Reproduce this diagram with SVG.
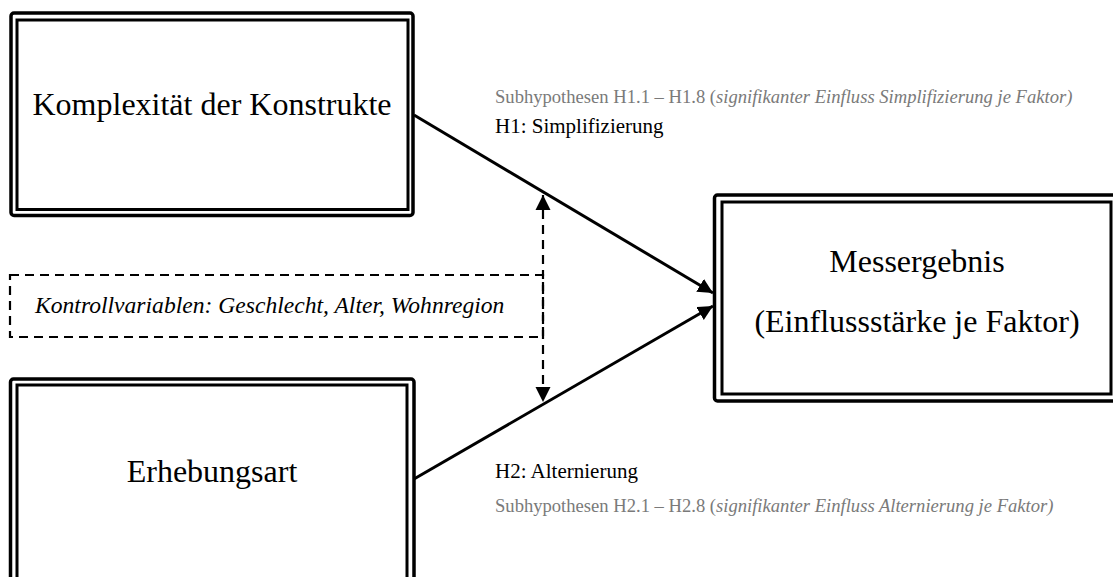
<svg xmlns="http://www.w3.org/2000/svg" width="1113" height="577" viewBox="0 0 1113 577">
  <style>
    .outer { fill: #ffffff; stroke: #000000; stroke-width: 3.5; }
    .inner { fill: none; stroke: #000000; stroke-width: 3; }
    .node-text { font-family: "Liberation Serif", "Times New Roman", serif; font-size: 32px; fill: #000000; text-anchor: middle; }
    .ctrl-text { font-family: "Liberation Serif", "Times New Roman", serif; font-size: 23.6px; font-style: italic; fill: #000000; }
    .hyp { font-family: "Liberation Serif", "Times New Roman", serif; font-size: 21px; fill: #000000; }
    .sub { font-family: "Liberation Serif", "Times New Roman", serif; font-size: 18.6px; fill: #7a7a7a; }
    .edge { stroke: #000000; stroke-width: 3; fill: none; }
    .dashed { stroke: #000000; stroke-width: 2.2; fill: none; stroke-dasharray: 9 6; }
  </style>
  <defs>
    <marker id="arrow" viewBox="0 0 10 10" refX="10" refY="5" markerWidth="5" markerHeight="5" markerUnits="strokeWidth" orient="auto">
      <path d="M0,0 L10,5 L0,10 z" fill="#000000"/>
    </marker>
    <marker id="arrowThin" viewBox="0 0 10 10" refX="10" refY="5" markerWidth="7" markerHeight="7" markerUnits="strokeWidth" orient="auto-start-reverse">
      <path d="M0,0 L10,5 L0,10 z" fill="#000000"/>
    </marker>
  </defs>
  <rect width="1113" height="577" fill="#ffffff"/>

  <!-- control variables box (dashed) -->
  <g id="kontrollvariablen">
    <rect class="dashed" x="10" y="275" width="533" height="62"/>
    <text class="ctrl-text" x="35" y="313">Kontrollvariablen: Geschlecht, Alter, Wohnregion</text>
  </g>

  <g id="komplexitaet">
    <rect class="outer" x="11" y="13" width="402" height="202.5" rx="3"/>
    <rect class="inner" x="17" y="20" width="391" height="189.5"/>
    <text class="node-text" x="212" y="115">Komplexität der Konstrukte</text>
  </g>

  <g id="erhebungsart">
    <rect class="outer" x="10.5" y="379" width="403.5" height="210" rx="3"/>
    <rect class="inner" x="17" y="385" width="390" height="200"/>
    <text class="node-text" x="212" y="482">Erhebungsart</text>
  </g>

  <g id="messergebnis">
    <rect class="outer" x="714.5" y="195" width="410" height="206" rx="3"/>
    <rect class="inner" x="722" y="202" width="389" height="192"/>
    <text class="node-text" x="917" y="272">Messergebnis</text>
    <text class="node-text" x="917" y="332">(Einflussstärke je Faktor)</text>
  </g>

  <g id="connectors">
    <line class="edge" x1="414" y1="115" x2="713" y2="293" marker-end="url(#arrow)"/>
    <line class="edge" x1="414" y1="479" x2="713" y2="306" marker-end="url(#arrow)"/>
    <line class="dashed" x1="543" y1="195" x2="543" y2="402" marker-start="url(#arrowThin)" marker-end="url(#arrowThin)"/>
  </g>

  <g id="labels">
    <text class="sub" x="495" y="103">Subhypothesen H1.1 – H1.8 (<tspan font-style="italic">signifikanter Einfluss Simplifizierung je Faktor)</tspan></text>
    <text class="hyp" x="495" y="133">H1: Simplifizierung</text>
    <text class="hyp" x="495" y="478">H2: Alternierung</text>
    <text class="sub" x="495" y="512">Subhypothesen H2.1 – H2.8 (<tspan font-style="italic">signifikanter Einfluss Alternierung je Faktor)</tspan></text>
  </g>
</svg>
